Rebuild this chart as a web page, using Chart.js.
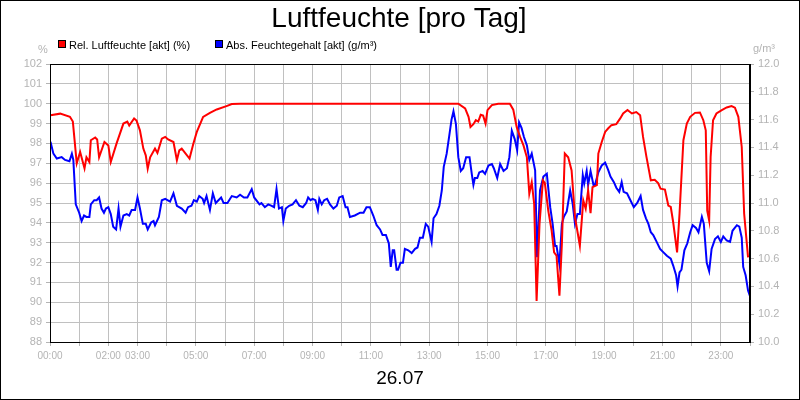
<!DOCTYPE html>
<html>
<head>
<meta charset="utf-8">
<title>Luftfeuchte [pro Tag]</title>
<script src="https://cdn.jsdelivr.net/npm/chart.js@4.4.1/dist/chart.umd.min.js"></script>
<style>
  html, body { margin: 0; padding: 0; background: #fff; }
  canvas { display: block; }
</style>
</head>
<body>
<canvas id="humidityChart" width="800" height="400"></canvas>
<script>
// time of day in minutes since 00:00
const redTimes = [1, 21, 41, 47, 55, 62, 71, 75, 81, 84, 93, 97, 101, 112, 120, 125, 137, 151, 159, 163,
  173, 178, 185, 192, 197, 201, 206, 216, 221, 230, 237, 243, 254, 261, 266, 271, 287, 295, 302, 315,
  329, 343, 363, 374, 391, 840, 854, 861, 865, 871, 876, 881, 886, 891, 896, 900, 909, 922, 946, 953,
  960, 967, 974, 981, 986, 991, 996, 1001, 1007, 1014, 1018, 1025, 1032, 1037, 1042, 1048, 1053, 1059, 1066, 1073,
  1080, 1090, 1097, 1102, 1107, 1112, 1116, 1125, 1128, 1135, 1142, 1148, 1155, 1165, 1173, 1179, 1188, 1197, 1206, 1214,
  1220, 1227, 1236, 1244, 1251, 1256, 1265, 1272, 1277, 1282, 1290, 1295, 1303, 1310, 1317, 1327, 1337, 1344, 1349, 1352,
  1356, 1359, 1364, 1371, 1382, 1392, 1402, 1409, 1416, 1423, 1428, 1436];
const redValues = [99.42, 99.5, 99.34, 99.1, 97.0, 97.57, 96.74, 97.3, 97.06, 98.16, 98.3, 98.2, 97.3, 98.07, 97.9, 97.06, 98.0, 99.0, 99.1, 98.9,
  99.26, 99.15, 98.66, 97.74, 97.4, 96.73, 97.3, 97.74, 97.52, 98.24, 98.33, 98.2, 98.07, 97.15, 97.65, 97.74, 97.24, 98.0, 98.58, 99.34,
  99.54, 99.71, 99.88, 99.98, 100, 100, 99.76, 99.34, 98.83, 98.97, 99.17, 99.1, 99.44, 99.4, 99.0, 99.68, 99.93, 100, 100, 99.7,
  98.83, 98.33, 97.9, 97.3, 95.47, 96.05, 94.96, 90.07, 93.95, 96.14, 96.0, 94.62, 93.6, 92.51, 92.35, 90.33, 92.94, 97.49, 97.3, 96.64,
  94.29, 92.85, 95.13, 94.71, 95.63, 94.49, 95.8, 95.9, 97.49, 98.07, 98.58, 98.75, 98.92, 98.97, 99.26, 99.51, 99.68, 99.51, 99.58, 99.42,
  98.33, 97.32, 96.14, 96.17, 96.0, 95.72, 95.68, 94.87, 94.8, 94.03, 92.51, 94.46, 98.16, 99.0, 99.34, 99.54, 99.56, 99.17, 98.66, 94.62,
  94.12, 97.32, 99.17, 99.51, 99.68, 99.81, 99.88, 99.8, 99.34, 97.82, 94.46, 92.26];

const blueTimes = [1, 7, 14, 24, 31, 40, 45, 48, 53, 60, 65, 70, 75, 81, 84, 91, 96, 101, 106, 111,
  115, 120, 125, 130, 136, 141, 145, 151, 158, 163, 168, 175, 180, 185, 191, 197, 201, 208, 213, 216,
  224, 230, 237, 247, 254, 261, 271, 279, 284, 291, 296, 302, 307, 314, 317, 322, 329, 335, 341, 352,
  357, 365, 374, 384, 391, 399, 406, 415, 420, 431, 435, 442, 449, 456, 461, 466, 471, 477, 480, 485,
  492, 499, 506, 513, 520, 527, 531, 536, 540, 546, 551, 554, 559, 564, 570, 576, 583, 590, 595, 602,
  608, 612, 617, 627, 638, 645, 651, 658, 665, 672, 679, 684, 691, 697, 701, 705, 708, 713, 716, 721,
  726, 730, 737, 744, 751, 756, 761, 767, 773, 778, 785, 789, 795, 801, 806, 810, 816, 821, 826, 830,
  835, 840, 845, 850, 856, 863, 868, 871, 874, 879, 883, 890, 895, 902, 909, 913, 920, 926, 933, 940,
  945, 950, 956, 961, 965, 970, 975, 981, 986, 991, 998, 1002, 1008, 1015, 1022, 1029, 1034, 1039, 1042, 1048,
  1053, 1057, 1063, 1070, 1075, 1080, 1085, 1090, 1096, 1099, 1104, 1107, 1112, 1118, 1121, 1128, 1135, 1142, 1148, 1153,
  1160, 1165, 1171, 1176, 1180, 1187, 1194, 1201, 1208, 1215, 1220, 1226, 1231, 1236, 1241, 1248, 1255, 1262, 1269, 1277,
  1282, 1288, 1291, 1295, 1299, 1305, 1311, 1317, 1322, 1329, 1334, 1341, 1345, 1351, 1356, 1361, 1368, 1374, 1380, 1385,
  1392, 1399, 1404, 1413, 1418, 1423, 1426, 1431, 1436, 1440];
const blueValues = [11.44, 11.355, 11.32, 11.33, 11.31, 11.30, 11.355, 11.31, 10.99, 10.93, 10.87, 10.91, 10.9, 10.9, 10.99, 11.02, 11.02, 11.04, 10.96, 10.93,
  10.96, 10.97, 10.92, 10.83, 10.81, 10.96, 10.83, 10.91, 10.92, 10.91, 10.95, 10.95, 11.04, 10.96, 10.85, 10.85, 10.81, 10.86, 10.87, 10.84,
  10.90, 11.02, 11.03, 11.01, 11.07, 10.98, 10.96, 10.93, 10.97, 10.98, 11.02, 11.01, 11.05, 11.03, 11.0, 11.05, 10.95, 11.07, 11.0, 11.04,
  11.0, 11.0, 11.05, 11.04, 11.06, 11.04, 11.04, 11.10, 11.04, 10.99, 11.0, 10.97, 10.99, 10.98, 10.97, 11.10, 10.96, 10.97, 10.87, 10.96,
  10.98, 10.99, 11.02, 10.98, 10.97, 11.0, 11.04, 11.02, 11.03, 11.02, 10.95, 11.03, 10.99, 11.02, 11.03, 10.99, 10.96, 10.98, 11.04, 11.05,
  10.97, 10.97, 10.90, 10.91, 10.93, 10.93, 10.97, 10.97, 10.91, 10.84, 10.81, 10.77, 10.77, 10.71, 10.54, 10.66, 10.66, 10.52, 10.52, 10.57,
  10.57, 10.67, 10.66, 10.64, 10.67, 10.68, 10.75, 10.75, 10.85, 10.83, 10.72, 10.89, 10.92, 10.98, 11.09, 11.26, 11.355, 11.475, 11.60, 11.66,
  11.57, 11.33, 11.23, 11.25, 11.33, 11.33, 11.20, 11.13, 11.18, 11.18, 11.22, 11.23, 11.21, 11.27, 11.28, 11.25, 11.18, 11.28, 11.23, 11.25,
  11.33, 11.52, 11.46, 11.38, 11.58, 11.54, 11.475, 11.415, 11.31, 11.355, 11.235, 10.61, 11.09, 11.19, 11.21, 10.97, 10.85, 10.69, 10.69, 10.56,
  10.85, 10.90, 10.94, 11.09, 11.0, 10.85, 10.92, 10.92, 11.2, 11.14, 11.23, 11.13, 11.23, 11.13, 11.13, 11.22, 11.27, 11.29, 11.24, 11.19,
  11.15, 11.11, 11.08, 11.15, 11.08, 11.07, 11.02, 10.97, 11.0, 11.05, 10.95, 10.89, 10.85, 10.79, 10.77, 10.72, 10.67, 10.645, 10.62, 10.60,
  10.55, 10.48, 10.40, 10.50, 10.52, 10.66, 10.71, 10.79, 10.84, 10.82, 10.79, 10.90, 10.85, 10.57, 10.51, 10.67, 10.74, 10.76, 10.72, 10.76,
  10.73, 10.72, 10.80, 10.84, 10.83, 10.75, 10.54, 10.48, 10.37, 10.33];

// hours that get a label on the time axis
const labeledHours = [0, 2, 3, 5, 7, 9, 11, 13, 15, 17, 19, 21, 23];

const chartTitle = 'Luftfeuchte [pro Tag]';
const dayLabel = '26.07';
const seriesNames = ['Rel. Luftfeuchte [akt] (%)', 'Abs. Feuchtegehalt [akt] (g/m³)'];
const seriesColors = ['#ff0000', '#0000ff'];

const SANS = "'Liberation Sans', Arial, sans-serif";
const LABEL_GREY = '#b4b4b4';
const GRID_GREY = '#c0c0c0';

const pad2 = n => String(n).padStart(2, '0');

const decorations = {
  id: 'decorations',
  beforeDraw(chart) {
    const ctx = chart.ctx;
    ctx.save();
    ctx.fillStyle = '#fff';
    ctx.fillRect(0, 0, chart.width, chart.height);
    ctx.restore();
  },
  afterDraw(chart) {
    const ctx = chart.ctx;
    const area = chart.chartArea;
    ctx.save();

    // frame round the plot
    ctx.strokeStyle = '#000';
    ctx.lineWidth = 1;
    ctx.strokeRect(Math.round(area.left) + 0.5, Math.round(area.top) + 0.5,
      Math.round(area.right - area.left) - 1, Math.round(area.bottom - area.top));

    // outer border
    ctx.strokeRect(0.5, 0.5, chart.width - 1, chart.height - 1);

    // title
    ctx.fillStyle = '#000';
    ctx.textAlign = 'center';
    ctx.textBaseline = 'alphabetic';
    ctx.font = '28px ' + SANS;
    ctx.fillText(chartTitle, 399, 27);

    // date under the time axis
    ctx.font = '19px ' + SANS;
    ctx.fillText(dayLabel, 400, 384);

    // legend
    ctx.font = '11px ' + SANS;
    ctx.textAlign = 'left';
    const legendX = [58, 215];
    seriesNames.forEach((name, i) => {
      ctx.fillStyle = seriesColors[i];
      ctx.fillRect(legendX[i], 41, 7, 7);
      ctx.strokeStyle = '#000';
      ctx.strokeRect(legendX[i] + 0.5, 40.5, 7, 7);
      ctx.fillStyle = '#000';
      ctx.fillText(name, legendX[i] + 11, 49);
    });

    // units
    ctx.fillStyle = LABEL_GREY;
    ctx.font = '11px ' + SANS;
    ctx.textAlign = 'center';
    ctx.fillText('%', 43, 53);
    ctx.fillText('g/m³', 764, 52);

    ctx.restore();
  }
};

const ctx = document.getElementById('humidityChart').getContext('2d');
new Chart(ctx, {
  type: 'line',
  data: {
    datasets: [
      {
        label: seriesNames[0],
        data: redTimes.map((t, i) => ({ x: t, y: redValues[i] })),
        borderColor: seriesColors[0],
        backgroundColor: seriesColors[0],
        borderWidth: 2,
        pointRadius: 0,
        tension: 0,
        yAxisID: 'y'
      },
      {
        label: seriesNames[1],
        data: blueTimes.map((t, i) => ({ x: t, y: blueValues[i] })),
        borderColor: seriesColors[1],
        backgroundColor: seriesColors[1],
        borderWidth: 2,
        pointRadius: 0,
        tension: 0,
        yAxisID: 'y1'
      }
    ]
  },
  options: {
    responsive: false,
    animation: false,
    devicePixelRatio: 1,
    layout: { padding: { top: 64, left: 0, right: 0, bottom: 0 } },
    plugins: {
      legend: { display: false },
      title: { display: false },
      tooltip: { enabled: false }
    },
    scales: {
      x: {
        type: 'linear',
        min: 0,
        max: 1440,
        afterBuildTicks: scale => {
          scale.ticks = [];
          for (let m = 0; m <= 1440; m += 60) scale.ticks.push({ value: m });
        },
        afterFit: scale => { scale.height = 58; },
        ticks: {
          autoSkip: false,
          maxRotation: 0,
          padding: 4,
          color: LABEL_GREY,
          font: { family: SANS, size: 10 },
          callback: v => labeledHours.includes(v / 60) ? pad2(v / 60) + ':00' : ''
        },
        grid: { color: GRID_GREY, tickLength: 4, tickColor: LABEL_GREY },
        border: { color: '#000' }
      },
      y: {
        position: 'left',
        min: 88,
        max: 102,
        afterFit: scale => { scale.width = 50; },
        ticks: {
          stepSize: 1,
          padding: 4,
          color: LABEL_GREY,
          font: { family: SANS, size: 11 }
        },
        grid: { color: GRID_GREY, tickLength: 4, tickColor: LABEL_GREY },
        border: { color: '#000' }
      },
      y1: {
        position: 'right',
        min: 10,
        max: 12,
        afterFit: scale => { scale.width = 50; },
        ticks: {
          stepSize: 0.2,
          padding: 4,
          color: LABEL_GREY,
          font: { family: SANS, size: 11 },
          callback: v => v.toFixed(1)
        },
        grid: { drawOnChartArea: false, tickLength: 4, tickColor: LABEL_GREY },
        border: { color: '#000' }
      }
    }
  },
  plugins: [decorations]
});
</script>
</body>
</html>
